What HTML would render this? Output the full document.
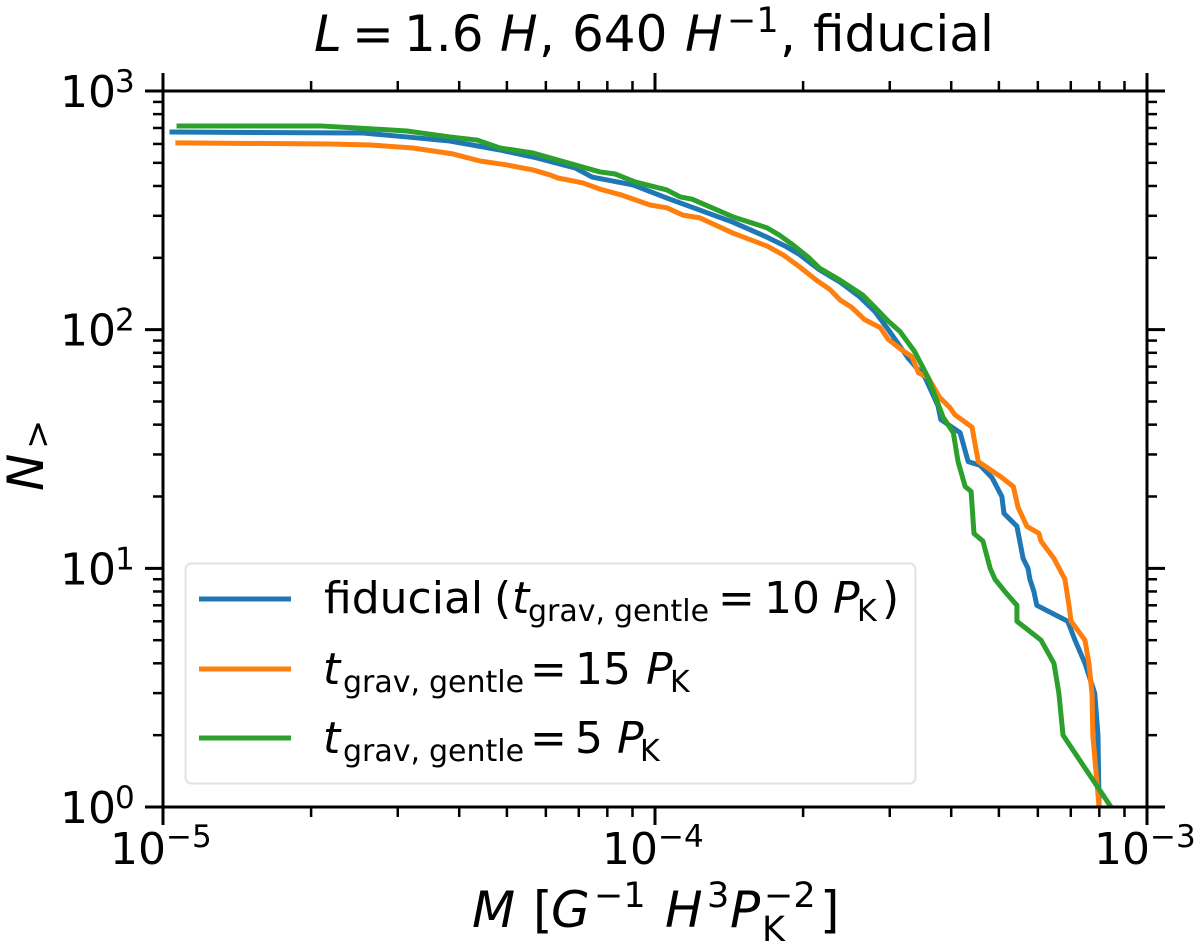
<!DOCTYPE html>
<html lang="en">
<head>
<meta charset="utf-8">
<title>Cumulative mass function</title>
<style>
  html, body { margin: 0; padding: 0; background: #fff; }
  svg { display: block; font-family: "DejaVu Sans", "Liberation Sans", sans-serif; }
  text { fill: #000; }
  .it { font-style: italic; }
</style>
</head>
<body>
<svg id="chart" xmlns="http://www.w3.org/2000/svg" width="1200" height="946" viewBox="0 0 1200 946">
  <rect x="0" y="0" width="1200" height="946" fill="#fff"/>
  <defs><clipPath id="plot-clip"><rect x="163" y="91" width="984" height="716"/></clipPath></defs>
  <g id="series-layer" clip-path="url(#plot-clip)"></g>
  <g id="axes-layer"></g>

  <text font-size="50" y="51"><tspan class="it" x="314">L</tspan><tspan x="352">=</tspan><tspan x="404">1.6</tspan><tspan class="it" x="500">H</tspan><tspan x="539">,</tspan><tspan x="572">640</tspan><tspan class="it" x="685">H</tspan><tspan font-size="35" x="727" y="32">−1</tspan><tspan x="780" y="51">,</tspan><tspan x="813">fiducial</tspan></text>

  <text font-size="50" y="927"><tspan class="it" x="472">M</tspan><tspan x="533">[</tspan><tspan class="it" x="551">G</tspan><tspan font-size="35" x="594" y="907">−1</tspan><tspan class="it" x="665" y="927">H</tspan><tspan font-size="35" x="707" y="907">3</tspan><tspan class="it" x="730" y="927">P</tspan><tspan font-size="35" x="762" y="941">K</tspan><tspan font-size="35" x="764" y="907">−2</tspan><tspan x="820" y="927">]</tspan></text>

  <text font-size="50" transform="translate(43 491) rotate(-90)"><tspan class="it" x="0" y="0">N</tspan><tspan font-size="35" x="42" y="6">&gt;</tspan></text>

  <g>
    <rect x="185.5" y="563.5" width="730" height="220" rx="6" ry="6" fill="#fff" fill-opacity="0.8" stroke="#e2e2e2" stroke-width="2"/>
    <line x1="199" y1="599" x2="291" y2="599" stroke="#1f77b4" stroke-width="5"/>
    <line x1="199" y1="669" x2="291" y2="669" stroke="#ff7f0e" stroke-width="5"/>
    <line x1="199" y1="738" x2="291" y2="738" stroke="#2ca02c" stroke-width="5"/>
    <text font-size="44" y="613"><tspan x="324">fiducial</tspan><tspan x="494">(</tspan><tspan class="it" x="512">t</tspan><tspan font-size="30" x="528" y="621">grav,</tspan><tspan font-size="30" x="614" y="621">gentle</tspan><tspan x="718" y="613">=</tspan><tspan x="764">10</tspan><tspan class="it" x="833">P</tspan><tspan font-size="30" x="857" y="621">K</tspan><tspan x="882" y="613">)</tspan></text>
    <text font-size="44" y="684"><tspan class="it" x="323">t</tspan><tspan font-size="30" x="343" y="692">grav,</tspan><tspan font-size="30" x="429" y="692">gentle</tspan><tspan x="530" y="684">=</tspan><tspan x="575">15</tspan><tspan class="it" x="646">P</tspan><tspan font-size="30" x="670" y="692">K</tspan></text>
    <text font-size="44" y="753"><tspan class="it" x="323">t</tspan><tspan font-size="30" x="343" y="761">grav,</tspan><tspan font-size="30" x="429" y="761">gentle</tspan><tspan x="530" y="753">=</tspan><tspan x="575">5</tspan><tspan class="it" x="617">P</tspan><tspan font-size="30" x="640" y="761">K</tspan></text>
  </g>
</svg>
<script>
// Chart data: mass M and cumulative count N for each run
const fiducialMass = [1.043e-5,2.55e-5,3.13e-5,3.83e-5,4.35e-5,4.84e-5,5.65e-5,6.88e-5,7.45e-5,9.02e-5,1.057e-4,1.233e-4,1.44e-4,1.69e-4,1.84e-4,1.97e-4,2.16e-4,2.38e-4,2.61e-4,2.80e-4,2.98e-4,3.27e-4,3.54e-4,3.76e-4,3.81e-4,4.17e-4,4.33e-4,4.58e-4,4.84e-4,5.07e-4,5.12e-4,5.44e-4,5.60e-4,5.73e-4,5.78e-4,5.89e-4,5.97e-4,6.90e-4,7.14e-4,7.48e-4,7.83e-4,7.95e-4,7.99e-4];
const fiducialCount = [673,667,642,617,589,566,529,476,436,404,356,317,282,244,224,206,178,158,137,119,100,76,63,48,42,37,28,27,24,20,17,15,11,10,9,8,7,6,5,4,3,2,1];
const gentle15Mass = [1.072e-5,2.18e-5,2.64e-5,3.22e-5,3.88e-5,4.41e-5,5.00e-5,5.65e-5,6.12e-5,6.35e-5,7.14e-5,7.73e-5,8.57e-5,9.77e-5,1.057e-4,1.14e-4,1.233e-4,1.44e-4,1.69e-4,1.82e-4,1.97e-4,2.13e-4,2.27e-4,2.38e-4,2.51e-4,2.67e-4,2.87e-4,2.98e-4,3.18e-4,3.33e-4,3.43e-4,3.59e-4,3.79e-4,3.98e-4,4.07e-4,4.41e-4,4.54e-4,5.07e-4,5.35e-4,5.47e-4,5.70e-4,6.03e-4,6.09e-4,6.47e-4,6.81e-4,6.94e-4,7.01e-4,7.48e-4,7.62e-4,7.73e-4,7.76e-4,7.99e-4];
const gentle15Count = [606,600,594,577,545,509,490,467,445,432,412,388,366,333,324,302,294,254,224,206,183,161,147,133,124,110,102,91,82,77,66,63,52,47,44,39,28,24,22,18,15,14,13,11,9,7,6,5,4,3,2,1];
const gentle5Mass = [1.078e-5,2.11e-5,2.48e-5,3.13e-5,3.83e-5,4.35e-5,4.84e-5,5.65e-5,6.88e-5,7.73e-5,8.30e-5,9.11e-5,1.057e-4,1.125e-4,1.19e-4,1.44e-4,1.69e-4,1.79e-4,1.91e-4,2.05e-4,2.16e-4,2.38e-4,2.64e-4,2.80e-4,2.96e-4,3.15e-4,3.37e-4,3.59e-4,3.85e-4,4.04e-4,4.13e-4,4.27e-4,4.39e-4,4.45e-4,4.64e-4,4.80e-4,4.91e-4,5.14e-4,5.44e-4,5.44e-4,6.09e-4,6.47e-4,6.62e-4,6.75e-4,8.45e-4];
const gentle5Count = [713,713,700,680,642,623,577,550,490,458,449,416,385,360,352,297,267,249,226,201,181,161,140,124,110,98,81,63,43,37,28,22,21,14,13,10,9,8,7,6,5,4,3,2,1];

// Axis tick exponents (printed as 10^n)
const xTickExponents = [-5, -4, -3];
const yTickExponents = [0, 1, 2, 3];
const minorMultipliers = [2, 3, 4, 5, 6, 7, 8, 9];

const plotLeft = 163, plotRight = 1147, plotTop = 91, plotBottom = 807;
const xLogMin = -5, xLogMax = -3, yLogMin = 0, yLogMax = 3;

function xScale(m) {
  return plotLeft + (Math.log10(m) - xLogMin) / (xLogMax - xLogMin) * (plotRight - plotLeft);
}
function yScale(n) {
  return plotBottom - (Math.log10(n) - yLogMin) / (yLogMax - yLogMin) * (plotBottom - plotTop);
}

const svgNS = 'http://www.w3.org/2000/svg';
const seriesLayer = document.getElementById('series-layer');
const axesLayer = document.getElementById('axes-layer');

function makeLine(x1, y1, x2, y2, width) {
  const l = document.createElementNS(svgNS, 'line');
  l.setAttribute('x1', x1);
  l.setAttribute('y1', y1);
  l.setAttribute('x2', x2);
  l.setAttribute('y2', y2);
  l.setAttribute('stroke', '#000');
  l.setAttribute('stroke-width', width);
  axesLayer.appendChild(l);
  return l;
}

function drawSeries(mass, count, color, name) {
  const pts = mass.map(function (m, i) {
    return xScale(m).toFixed(2) + ',' + yScale(count[i]).toFixed(2);
  }).join(' ');
  const p = document.createElementNS(svgNS, 'polyline');
  p.setAttribute('points', pts);
  p.setAttribute('fill', 'none');
  p.setAttribute('stroke', color);
  p.setAttribute('stroke-width', '5');
  p.setAttribute('stroke-linejoin', 'round');
  p.setAttribute('stroke-linecap', 'square');
  
  
  seriesLayer.appendChild(p);
}
drawSeries(fiducialMass, fiducialCount, '#1f77b4', 'series-fiducial');
drawSeries(gentle15Mass, gentle15Count, '#ff7f0e', 'series-gentle-15');
drawSeries(gentle5Mass, gentle5Count, '#2ca02c', 'series-gentle-5');

// Spines
const spineLeft = makeLine(plotLeft, plotTop, plotLeft, plotBottom, 3);


const spineRight = makeLine(plotRight, plotTop, plotRight, plotBottom, 3);


const spineTop = makeLine(plotLeft, plotTop, plotRight, plotTop, 3);


const spineBottom = makeLine(plotLeft, plotBottom, plotRight, plotBottom, 3);



function tickLabel(exp, x, y, supX, supY, name) {
  const t = document.createElementNS(svgNS, 'text');
  
  
  t.setAttribute('font-size', '44');
  const a = document.createElementNS(svgNS, 'tspan');
  a.setAttribute('x', x);
  a.setAttribute('y', y);
  a.textContent = '10';
  const b = document.createElementNS(svgNS, 'tspan');
  b.setAttribute('x', supX);
  b.setAttribute('y', supY);
  b.setAttribute('font-size', '31');
  b.textContent = String(exp).replace('-', '\u2212');
  t.appendChild(a);
  t.appendChild(b);
  axesLayer.appendChild(t);
}

// X ticks (bottom and top, drawn outward)
xTickExponents.forEach(function (e, i) {
  const px = xScale(Math.pow(10, e));
  const tb = makeLine(px, plotBottom, px, plotBottom + 18, 3);
  
  
  const tt = makeLine(px, plotTop, px, plotTop - 18, 3);
  
  
  tickLabel(e, px - 53, 864, px + 3, 847, 'x-tick-label');
  if (i < xTickExponents.length - 1) {
    minorMultipliers.forEach(function (k) {
      const mx = xScale(k * Math.pow(10, e));
      const mb = makeLine(mx, plotBottom, mx, plotBottom + 10, 2.5);
      
      
      const mt = makeLine(mx, plotTop, mx, plotTop - 10, 2.5);
      
      
    });
  }
});

// Y ticks (left and right, drawn outward)
yTickExponents.forEach(function (e, i) {
  const py = yScale(Math.pow(10, e));
  const tl = makeLine(plotLeft, py, plotLeft - 18, py, 3);
  
  
  const tr = makeLine(plotRight, py, plotRight + 18, py, 3);
  
  
  tickLabel(e, 60, py + 16, 115, py + 1, 'y-tick-label');
  if (i < yTickExponents.length - 1) {
    minorMultipliers.forEach(function (k) {
      const my = yScale(k * Math.pow(10, e));
      const ml = makeLine(plotLeft, my, plotLeft - 10, my, 2.5);
      
      
      const mr = makeLine(plotRight, my, plotRight + 10, my, 2.5);
      
      
    });
  }
});
</script>
</body>
</html>
